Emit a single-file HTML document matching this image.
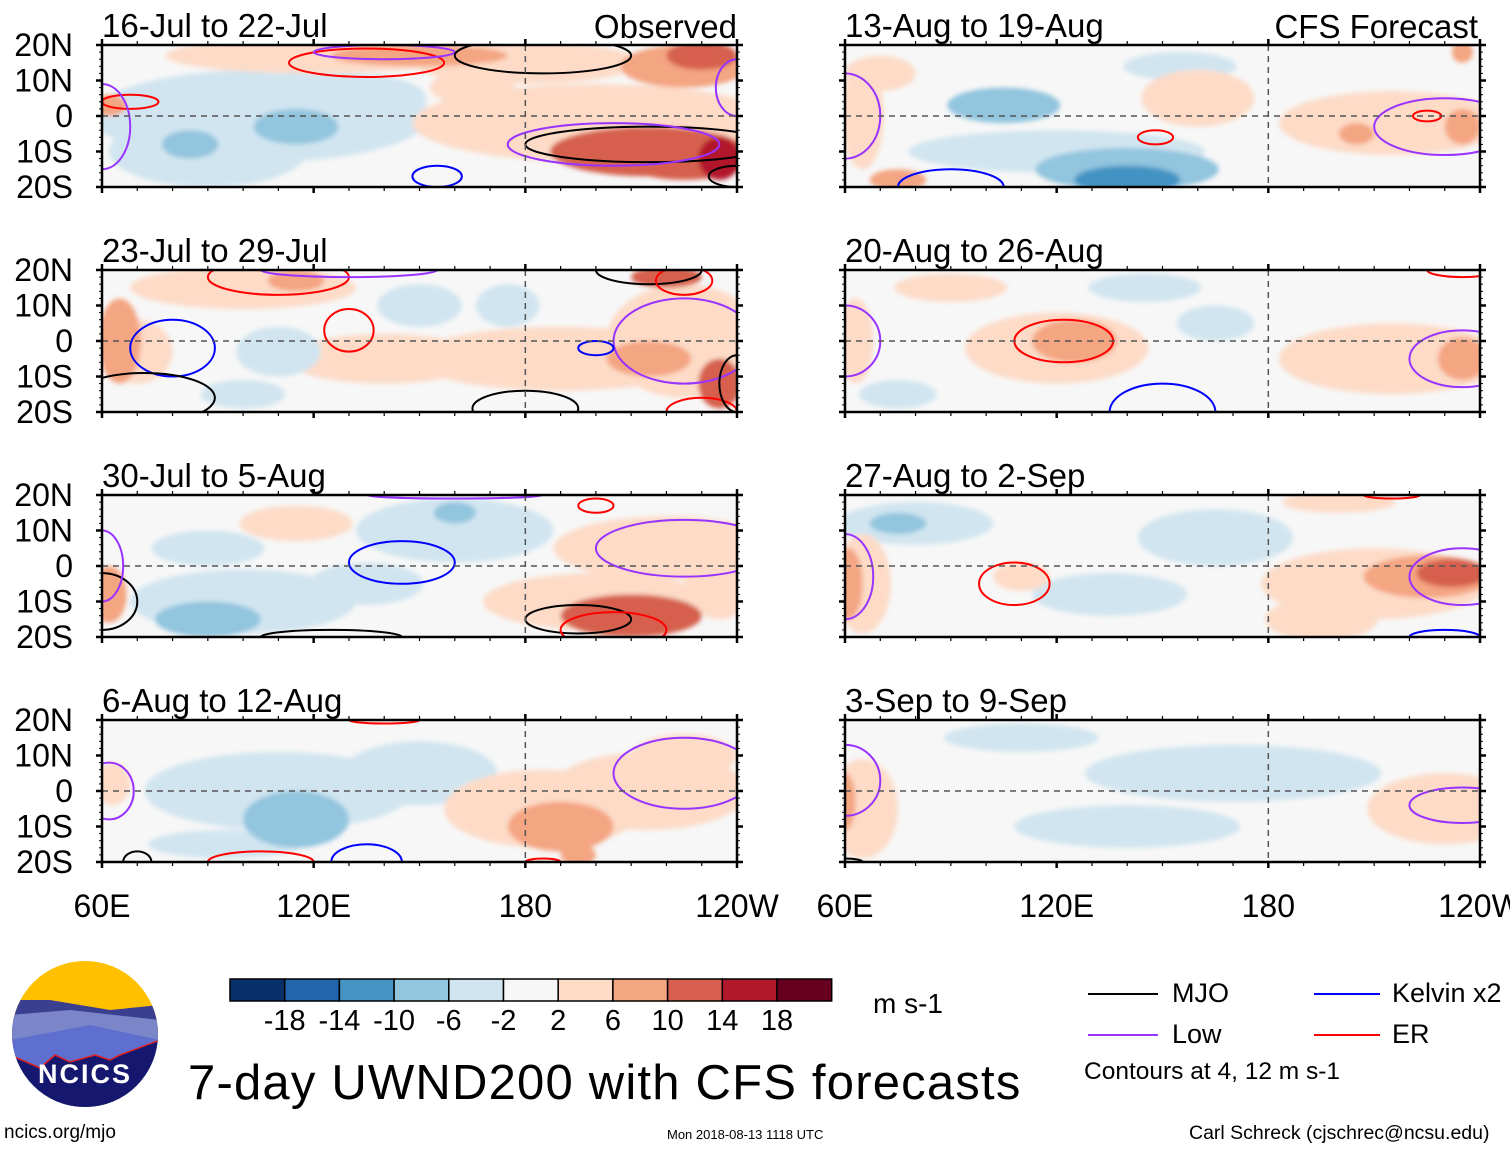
<!DOCTYPE html>
<html><head><meta charset="utf-8"><style>
body{margin:0;background:#fff;width:1510px;height:1149px;overflow:hidden;font-family:"Liberation Sans",sans-serif}
svg text{font-family:"Liberation Sans",sans-serif}
</style></head><body>
<svg id="s" width="1510" height="1149" viewBox="0 0 1510 1149">
<defs><filter id="bl" x="-20%" y="-50%" width="140%" height="200%"><feGaussianBlur stdDeviation="2.5"/></filter></defs>
</svg>
<script>
const titles=["16-Jul to 22-Jul","23-Jul to 29-Jul","30-Jul to 5-Aug","6-Aug to 12-Aug","13-Aug to 19-Aug","20-Aug to 26-Aug","27-Aug to 2-Sep","3-Sep to 9-Sep"];
const latTicks=["20N","10N","0","10S","20S"];
const lonTicks=["60E","120E","180","120W"];
const lonTickVals=[60,120,180,240];
const cbBounds=[-18,-14,-10,-6,-2,2,6,10,14,18];
const cbColors=["#08306b","#2166ac","#4393c3","#92c5de","#d1e5f0","#f7f7f7","#fddbc7","#f4a582","#d6604d","#b2182b","#67001f"];
// blobs: [lon, lat, value, halfWidthDeg, halfHeightDeg]
const blobs0=[[105,0,-3,48,13],[90,-10,-5,28,10],[130,5,-4,22,7],[85,-8,-8,8,4],[115,-3,-7,12,5],[120,17,4,42,5],[150,17,8,25,3],[180,15,4,32,6],[230,17,13,10,4],[225,14,8,18,6],[62,3,7,5,3],[200,-2,3,52,11],[210,-4,6,38,7],[215,-10,11,28,7],[225,-12,14,18,6],[235,-12,18,6,6],[165,8,3,12,5]];
const blobs1=[[100,15,3,32,6],[140,-5,3,28,7],[190,-5,4,42,9],[225,0,5,22,16],[215,-5,7,12,5],[65,0,10,6,12],[70,-3,6,10,9],[220,18,14,10,3],[235,-12,14,6,7],[115,17,7,8,3],[150,10,-3,12,6],[175,10,-3,9,6],[110,-3,-3,12,7],[100,-15,-3,12,4]];
const blobs2=[[90,-15,-8,15,5],[100,-10,-4,32,9],[90,5,-4,16,5],[160,15,-7,6,3],[160,10,-3,28,9],[135,-5,-4,16,6],[210,-14,11,20,6],[200,-10,6,32,8],[220,5,3,32,9],[62,-8,7,5,8],[115,12,3,16,5],[235,-5,6,10,10]];
const blobs3=[[115,-8,-7,15,8],[110,0,-3,38,11],[150,5,-3,22,9],[95,-15,-4,22,4],[190,-10,7,15,7],[185,-5,3,28,11],[225,10,6,15,6],[215,0,3,28,11],[63,2,4,5,6],[195,-18,9,5,3]];
const blobs4=[[105,3,-6,16,5],[140,-18,-12,15,4],[140,-15,-7,26,6],[120,-10,-3,42,6],[155,14,-3,16,4],[160,5,3,16,8],[75,-18,8,8,3],[70,12,4,10,5],[215,-2,4,32,9],[235,-3,7,5,5],[205,-5,7,5,3],[235,18,7,3,3],[65,0,3,6,15]];
const blobs5=[[125,0,7,12,6],[120,-2,3,26,10],[235,-5,8,7,6],[215,-5,3,32,10],[63,0,4,5,12],[90,15,3,16,4],[165,5,-3,11,5],[75,-15,-3,11,4],[145,15,-3,16,4]];
const blobs6=[[75,12,-7,8,3],[80,12,-3,22,6],[165,8,-3,22,8],[135,-8,-3,22,6],[61,-5,10,4,10],[65,-5,4,8,14],[110,-3,3,8,4],[232,-2,12,10,4],[225,-3,7,18,6],[210,-5,3,32,10],[195,-15,3,16,6],[200,18,3,16,3]];
const blobs7=[[65,-5,4,10,14],[230,-5,3,22,10],[60,-3,7,3,8],[140,-10,-3,32,6],[170,5,-3,42,8],[110,15,-3,22,4]];
// contours: [type, lon, lat, rLon, rLat]
const cont0=[["r",68,4,8,2],["p",60,-3,8,12],["r",135,15,22,4],["p",140,18,20,2],["k",185,17,25,5],["k",215,-8,35,5],["p",205,-8,30,6],["b",155,-17,7,3],["k",240,-17,8,3],["p",240,8,6,8]];
const cont1=[["b",80,-2,12,8],["k",72,-16,20,7],["r",130,3,7,6],["r",110,18,20,5],["p",130,20,25,2],["k",215,20,15,4],["r",225,17,8,4],["p",225,0,20,12],["b",200,-2,5,2],["k",180,-19,15,5],["r",230,-20,10,4],["k",240,-12,5,8]];
const cont2=[["b",145,1,15,6],["p",160,20,25,1],["k",60,-10,10,8],["k",125,-20,20,2],["r",200,17,5,2],["k",195,-15,15,4],["r",205,-18,15,5],["p",225,5,25,8],["p",60,0,6,10]];
const cont3=[["p",62,0,7,8],["b",135,-20,10,5],["r",105,-20,15,3],["k",70,-20,4,3],["r",185,-20,5,1],["p",225,5,20,10],["r",140,20,10,1]];
const cont4=[["b",90,-20,15,5],["p",60,0,10,12],["r",148,-6,5,2],["r",225,0,4,1.5],["p",230,-3,20,8],["p",130,22,20,2]];
const cont5=[["r",122,0,14,6],["b",150,-20,15,8],["p",60,0,10,10],["p",235,-5,15,8],["r",235,20,10,2]];
const cont6=[["r",108,-5,10,6],["p",60,-3,8,12],["p",235,-3,15,8],["b",230,-20,10,2],["r",215,20,8,1]];
const cont7=[["p",60,3,10,10],["p",235,-4,15,5],["k",60,-20,5,1]];
const allBlobs=[blobs0,blobs1,blobs2,blobs3,blobs4,blobs5,blobs6,blobs7];
const allCont=[cont0,cont1,cont2,cont3,cont4,cont5,cont6,cont7];
const cmap={k:"#000",p:"#9933ff",b:"#0000ff",r:"#ff0000"};
const NS="http://www.w3.org/2000/svg",svg=document.getElementById("s");
function el(t,a,p){const e=document.createElementNS(NS,t);for(const k in a)e.setAttribute(k,a[k]);(p||svg).appendChild(e);return e;}
function color(v){let i=0;cbBounds.forEach(b=>{if(v>b)i++;});return cbColors[i];}
const W=635,H=142,rowsY=[45,270,495,720],colsX=[102,845];
allBlobs.forEach((bl,pi)=>{
  const x0=colsX[pi<4?0:1],y0=rowsY[pi%4];
  const xs=lon=>x0+(lon-60)/180*W, ys=lat=>y0+(20-lat)/40*H;
  const g=el("g",{});
  
  
  const cp=el("clipPath",{id:"c"+pi},svg.querySelector("defs"));
  el("rect",{x:x0,y:y0,width:W,height:H},cp);
  const inner=el("g",{"clip-path":"url(#c"+pi+")"},g);
  el("rect",{x:x0,y:y0,width:W,height:H,fill:"#f7f7f7"},inner);
  const fg=el("g",{filter:"url(#bl)"},inner);
  bl.slice().sort((a,b)=>Math.abs(a[2])-Math.abs(b[2])).forEach(b=>{
    const e=el("ellipse",{cx:xs(b[0]),cy:ys(b[1]),rx:b[3]/180*W,ry:b[4]/40*H,fill:color(b[2])},fg);
    
    
  });
  allCont[pi].forEach(c=>{
    const e=el("ellipse",{cx:xs(c[1]),cy:ys(c[2]),rx:c[3]/180*W,ry:c[4]/40*H,fill:"none",stroke:cmap[c[0]],"stroke-width":2},inner);
    
    
  });
  el("line",{x1:x0,x2:x0+W,y1:ys(0),y2:ys(0),stroke:"#555","stroke-width":1.5,"stroke-dasharray":"6,5"},inner);
  el("line",{x1:xs(180),x2:xs(180),y1:y0,y2:y0+H,stroke:"#555","stroke-width":1.5,"stroke-dasharray":"6,5"},inner);
  const fr=el("rect",{x:x0,y:y0,width:W,height:H,fill:"none",stroke:"#000","stroke-width":2.5},g);
  
  
  for(let lon=60;lon<=240;lon+=10){const big=lon%60==0;
    el("line",{x1:xs(lon),x2:xs(lon),y1:y0-(big?6:4),y2:y0,stroke:"#000","stroke-width":big?2.5:1.2},g);
    el("line",{x1:xs(lon),x2:xs(lon),y1:y0+H,y2:y0+H+(big?6:4),stroke:"#000","stroke-width":big?2.5:1.2},g);}
  for(let lat=-20;lat<=20;lat+=2){const big=lat%10==0;
    el("line",{x1:x0-(big?6:3),x2:x0,y1:ys(lat),y2:ys(lat),stroke:"#000","stroke-width":big?2.5:1},g);
    el("line",{x1:x0+W,x2:x0+W+(big?6:3),y1:ys(lat),y2:ys(lat),stroke:"#000","stroke-width":big?2.5:1},g);}
  const t=el("text",{x:x0,y:y0-8,"font-size":33},g);t.textContent=titles[pi];
  
  
  if(pi<4){latTicks.forEach((l,i)=>{const tt=el("text",{x:73,y:ys(20-i*10)+11,"font-size":32,"text-anchor":"end"},g);tt.textContent=l;
    
    });}
});
[["Observed",737],["CFS Forecast",1478]].forEach(a=>{const t=el("text",{x:a[1],y:38,"font-size":33,"text-anchor":"end"});t.textContent=a[0];
  
  });
colsX.forEach(x0=>{lonTicks.forEach((l,i)=>{const t=el("text",{x:x0+(lonTickVals[i]-60)/180*W,y:917,"font-size":32,"text-anchor":"middle"});t.textContent=l;
  
  });});
cbColors.forEach((c,i)=>{const r=el("rect",{x:230+i*54.7,y:979,width:54.7,height:22,fill:c,stroke:"#000","stroke-width":1.5});
  
  });
cbBounds.forEach((b,i)=>{const t=el("text",{x:230+(i+1)*54.7,y:1030,"font-size":29,"text-anchor":"middle"});t.textContent=b;
  
  });
</script>
<div style="position:absolute;left:873px;top:988px;font-size:28px">m s-1</div>
<div style="position:absolute;left:188px;top:1055px;font-size:49px;letter-spacing:1.2px;white-space:nowrap">7-day UWND200 with CFS forecasts</div>
<div style="position:absolute;left:4px;top:1122px;font-size:19px">ncics.org/mjo</div>
<div style="position:absolute;left:667px;top:1127px;font-size:13px">Mon 2018-08-13 1118 UTC</div>
<div style="position:absolute;left:1189px;top:1122px;font-size:19.5px;white-space:nowrap">Carl Schreck (cjschrec@ncsu.edu)</div>
<div style="position:absolute;left:1084px;top:1058px;font-size:24.5px;white-space:nowrap">Contours at 4, 12 m s-1</div>
<div style="position:absolute;left:1088px;top:978px;font-size:27px">
 <div style="position:absolute;left:0;top:15px;width:70px;height:2px;background:#000"></div><div style="position:absolute;left:84px;top:0">MJO</div>
 <div style="position:absolute;left:0;top:56px;width:70px;height:2px;background:#9933ff"></div><div style="position:absolute;left:84px;top:41px">Low</div>
 <div style="position:absolute;left:226px;top:15px;width:66px;height:2px;background:#0000ff"></div><div style="position:absolute;left:304px;top:0;white-space:nowrap">Kelvin x2</div>
 <div style="position:absolute;left:226px;top:56px;width:66px;height:2px;background:#ff0000"></div><div style="position:absolute;left:304px;top:41px">ER</div>
</div>
<svg style="position:absolute;left:10px;top:960px" width="150" height="150">
 <defs><clipPath id="lc"><circle cx="75" cy="74" r="73"/></clipPath></defs>
 <g clip-path="url(#lc)">
  <rect width="150" height="150" fill="#ffc000"/>
  <path d="M0 40 L40 40 L100 50 L150 45 L150 150 L0 150Z" fill="#3a3f90"/>
  <path d="M0 55 L60 50 L150 60 L150 150 L0 150Z" fill="#7a86c8"/>
  <path d="M0 80 L80 65 L150 80 L150 150 L0 150Z" fill="#5f6fd0"/>
  <path d="M0 95 L30 108 L45 95 L60 102 L85 95 L100 100 L110 95 L150 80 L150 150 L0 150Z" fill="#15186e" stroke="#e02020" stroke-width="1.5"/>
 </g>
 <text x="75" y="123" font-size="27" font-weight="bold" fill="#fff" text-anchor="middle" letter-spacing="2">NCICS</text>
</svg>
</body></html>
